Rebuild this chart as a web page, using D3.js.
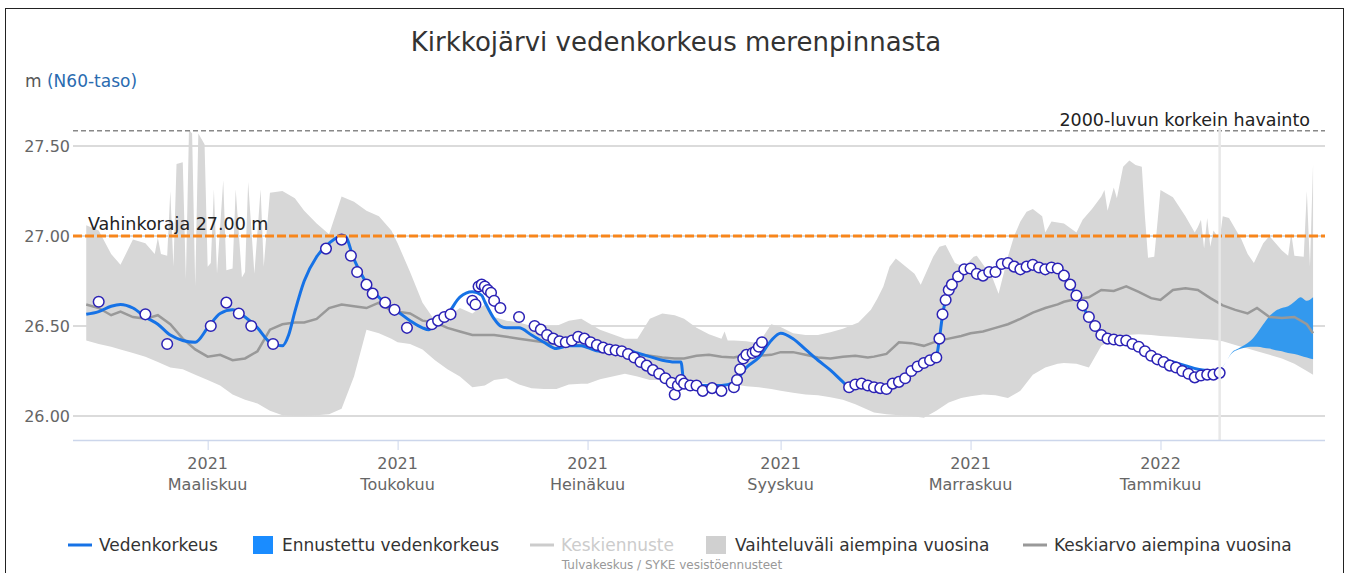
<!DOCTYPE html>
<html>
<head>
<meta charset="utf-8">
<script src="https://cdn.jsdelivr.net/npm/d3@7"></script>
<style>
body{margin:0;background:#fff;}
svg{font-family:"DejaVu Sans",sans-serif;}
</style>
</head>
<body>
<svg id="chart" width="1352" height="573"></svg>
<script>
// regular sampling dates for the low edge and the mean of previous years
let bandDates = [
 "2021-01-21","2021-01-25","2021-01-29",
 "2021-02-01","2021-02-05","2021-02-09","2021-02-13","2021-02-17","2021-02-21","2021-02-25",
 "2021-03-01","2021-03-05","2021-03-09","2021-03-13","2021-03-17","2021-03-21","2021-03-25","2021-03-29",
 "2021-04-01","2021-04-05","2021-04-09","2021-04-13","2021-04-17","2021-04-21","2021-04-25","2021-04-29",
 "2021-05-01","2021-05-05","2021-05-09","2021-05-13","2021-05-17","2021-05-21","2021-05-25","2021-05-29",
 "2021-06-01","2021-06-05","2021-06-09","2021-06-13","2021-06-17","2021-06-21","2021-06-25","2021-06-29",
 "2021-07-01","2021-07-05","2021-07-09","2021-07-13","2021-07-17","2021-07-21","2021-07-25","2021-07-29",
 "2021-08-01","2021-08-05","2021-08-09","2021-08-13","2021-08-17","2021-08-21","2021-08-25","2021-08-29",
 "2021-09-01","2021-09-05","2021-09-09","2021-09-13","2021-09-17","2021-09-21","2021-09-25","2021-09-29",
 "2021-10-01","2021-10-05","2021-10-09","2021-10-13","2021-10-17","2021-10-21","2021-10-25","2021-10-29",
 "2021-11-01","2021-11-05","2021-11-09","2021-11-13","2021-11-17","2021-11-21","2021-11-25","2021-11-29",
 "2021-12-01","2021-12-05","2021-12-09","2021-12-13","2021-12-17","2021-12-21","2021-12-25","2021-12-29",
 "2022-01-01","2022-01-05","2022-01-09","2022-01-13","2022-01-17","2022-01-21","2022-01-25","2022-01-29",
 "2022-02-01","2022-02-05","2022-02-09","2022-02-13","2022-02-17","2022-02-19"
];
let bandLow = [
 26.42,26.40,26.385,
 26.37,26.35,26.33,26.30,26.27,26.26,26.23,
 26.20,26.17,26.12,26.09,26.07,26.03,26.005,26.00,
 26.00,26.005,26.01,26.04,26.22,26.48,26.46,26.43,
 26.41,26.40,26.37,26.31,26.26,26.22,26.16,26.17,
 26.20,26.21,26.175,26.155,26.15,26.15,26.175,26.18,
 26.18,26.205,26.22,26.235,26.22,26.20,26.20,26.19,
 26.18,26.185,26.18,26.175,26.175,26.165,26.16,26.15,
 26.14,26.13,26.12,26.115,26.105,26.09,26.065,26.035,
 26.02,26.01,26.005,26.00,25.99,26.03,26.075,26.10,
 26.11,26.12,26.115,26.10,26.14,26.23,26.27,26.29,
 26.295,26.29,26.27,26.39,26.43,26.45,26.455,26.45,
 26.445,26.44,26.435,26.43,26.425,26.415,26.395,26.375,
 26.36,26.34,26.32,26.29,26.25,26.23
];
let bandMean = [
 26.62,26.60,26.56,
 26.58,26.55,26.54,26.56,26.51,26.43,26.37,
 26.33,26.34,26.31,26.32,26.36,26.48,26.51,26.52,
 26.52,26.54,26.60,26.62,26.61,26.60,26.63,26.585,
 26.58,26.57,26.53,26.52,26.49,26.47,26.45,26.45,
 26.45,26.44,26.43,26.42,26.41,26.40,26.395,26.39,
 26.385,26.37,26.36,26.355,26.345,26.335,26.325,26.32,
 26.32,26.335,26.34,26.33,26.325,26.34,26.335,26.34,
 26.355,26.355,26.34,26.325,26.32,26.33,26.335,26.325,
 26.33,26.345,26.41,26.405,26.39,26.415,26.43,26.445,
 26.46,26.47,26.49,26.51,26.54,26.575,26.60,26.62,
 26.635,26.65,26.66,26.70,26.695,26.72,26.69,26.655,
 26.645,26.70,26.71,26.70,26.655,26.615,26.59,26.57,
 26.60,26.55,26.545,26.55,26.51,26.46
];
// high edge of previous years (irregular, has the narrow spikes)
let bandHigh = [
 ["2021-01-21",27.06],["2021-01-25",27.03],["2021-01-29",26.90],["2021-02-01",26.84],
 ["2021-02-05",26.98],["2021-02-09",26.96],["2021-02-12",26.90],["2021-02-13",26.99],
 ["2021-02-14",26.90],["2021-02-16",26.89],["2021-02-17",27.25],["2021-02-18",26.83],
 ["2021-02-19",27.40],["2021-02-21",27.41],["2021-02-22",26.76],["2021-02-23",27.59],
 ["2021-02-24",27.57],["2021-02-25",26.72],["2021-02-26",27.57],["2021-02-28",27.51],
 ["2021-03-01",26.83],["2021-03-02",26.85],["2021-03-03",27.26],["2021-03-04",26.79],
 ["2021-03-06",27.31],["2021-03-07",26.81],["2021-03-09",26.82],["2021-03-10",27.26],
 ["2021-03-12",26.77],["2021-03-13",26.80],["2021-03-14",27.30],["2021-03-16",26.79],
 ["2021-03-18",27.26],["2021-03-19",26.83],["2021-03-21",27.24],["2021-03-25",27.25],
 ["2021-03-29",27.21],["2021-04-01",27.14],["2021-04-05",27.07],["2021-04-09",27.01],
 ["2021-04-13",27.22],["2021-04-17",27.19],["2021-04-21",27.14],["2021-04-25",27.11],
 ["2021-04-29",27.03],["2021-05-01",26.96],["2021-05-05",26.80],["2021-05-09",26.63],
 ["2021-05-13",26.53],["2021-05-17",26.55],["2021-05-21",26.60],["2021-05-25",26.57],
 ["2021-05-29",26.62],["2021-06-01",26.55],["2021-06-05",26.53],["2021-06-09",26.52],
 ["2021-06-13",26.50],["2021-06-17",26.50],["2021-06-21",26.50],["2021-06-25",26.53],
 ["2021-06-29",26.54],["2021-07-01",26.52],["2021-07-05",26.48],["2021-07-09",26.455],
 ["2021-07-13",26.43],["2021-07-17",26.43],["2021-07-21",26.54],["2021-07-25",26.57],
 ["2021-07-29",26.56],["2021-08-01",26.54],["2021-08-05",26.49],["2021-08-09",26.455],
 ["2021-08-13",26.43],["2021-08-14",26.47],["2021-08-15",26.42],["2021-08-17",26.42],
 ["2021-08-21",26.415],["2021-08-25",26.405],["2021-08-29",26.51],["2021-09-01",26.495],
 ["2021-09-05",26.46],["2021-09-09",26.45],["2021-09-13",26.45],["2021-09-17",26.465],
 ["2021-09-21",26.485],["2021-09-26",26.52],["2021-09-30",26.59],["2021-10-02",26.65],
 ["2021-10-04",26.72],["2021-10-06",26.83],["2021-10-08",26.875],["2021-10-14",26.79],
 ["2021-10-16",26.73],["2021-10-20",26.885],["2021-10-22",26.94],["2021-10-24",26.95],
 ["2021-10-27",26.85],["2021-10-30",26.83],["2021-11-02",26.885],["2021-11-03",26.89],
 ["2021-11-08",26.77],["2021-11-10",26.68],["2021-11-13",26.885],["2021-11-15",27.00],
 ["2021-11-17",27.08],["2021-11-19",27.135],["2021-11-21",27.15],["2021-11-24",27.11],
 ["2021-11-25",27.02],["2021-11-27",27.08],["2021-12-01",27.07],["2021-12-05",27.02],
 ["2021-12-07",27.09],["2021-12-10",27.15],["2021-12-13",27.22],["2021-12-14",27.255],
 ["2021-12-15",27.14],["2021-12-17",27.27],["2021-12-18",27.21],["2021-12-20",27.385],
 ["2021-12-22",27.42],["2021-12-24",27.395],["2021-12-26",27.385],["2021-12-27",27.11],
 ["2021-12-28",26.88],["2021-12-30",26.885],["2022-01-01",27.255],["2022-01-05",27.215],
 ["2022-01-09",27.11],["2022-01-12",27.02],["2022-01-13",27.05],["2022-01-14",27.09],
 ["2022-01-15",26.93],["2022-01-16",27.10],["2022-01-17",26.94],["2022-01-18",27.03],
 ["2022-01-20",26.98],["2022-01-21",27.11],["2022-01-23",27.10],["2022-01-27",26.98],
 ["2022-01-29",26.90],["2022-01-31",26.85],["2022-02-03",26.96],["2022-02-05",27.00],
 ["2022-02-09",26.92],["2022-02-11",26.89],["2022-02-12",27.015],["2022-02-13",26.89],
 ["2022-02-16",26.885],["2022-02-17",27.25],["2022-02-18",26.83],["2022-02-19",27.40]
];
// Vedenkorkeus (simulated water level line)
let levelLine = [
 ["2021-01-21",26.565],["2021-01-25",26.58],["2021-01-29",26.61],["2021-02-01",26.62],
 ["2021-02-05",26.60],["2021-02-09",26.55],["2021-02-13",26.51],["2021-02-17",26.45],
 ["2021-02-21",26.42],["2021-02-25",26.41],["2021-03-01",26.49],["2021-03-05",26.57],
 ["2021-03-09",26.59],["2021-03-13",26.55],["2021-03-17",26.49],["2021-03-21",26.41],
 ["2021-03-25",26.39],["2021-03-27",26.45],["2021-03-29",26.58],["2021-04-01",26.75],
 ["2021-04-05",26.885],["2021-04-09",26.96],["2021-04-13",27.00],["2021-04-14",27.00],
 ["2021-04-17",26.87],["2021-04-21",26.74],["2021-04-25",26.66],["2021-04-29",26.60],
 ["2021-05-01",26.58],["2021-05-05",26.53],["2021-05-09",26.49],["2021-05-11",26.48],
 ["2021-05-13",26.51],["2021-05-17",26.565],["2021-05-21",26.66],["2021-05-25",26.69],
 ["2021-05-28",26.67],["2021-05-29",26.635],["2021-06-01",26.54],["2021-06-03",26.50],
 ["2021-06-05",26.49],["2021-06-09",26.49],["2021-06-13",26.45],["2021-06-17",26.41],
 ["2021-06-21",26.375],["2021-06-25",26.39],["2021-06-29",26.39],["2021-07-01",26.38],
 ["2021-07-05",26.36],["2021-07-09",26.36],["2021-07-13",26.37],["2021-07-17",26.35],
 ["2021-07-21",26.33],["2021-07-25",26.31],["2021-07-29",26.30],["2021-07-31",26.30],
 ["2021-08-01",26.18],["2021-08-05",26.17],["2021-08-09",26.17],["2021-08-13",26.17],
 ["2021-08-17",26.185],["2021-08-21",26.27],["2021-08-25",26.325],["2021-08-29",26.42],
 ["2021-09-01",26.46],["2021-09-05",26.43],["2021-09-09",26.37],["2021-09-13",26.31],
 ["2021-09-17",26.255],["2021-09-21",26.19],["2021-09-23",26.16],["2021-09-25",26.175],
 ["2021-09-29",26.17],["2021-10-01",26.16],["2021-10-05",26.15],["2021-10-09",26.19],
 ["2021-10-13",26.25],["2021-10-17",26.295],["2021-10-21",26.33],["2021-10-22",26.43],
 ["2021-10-23",26.56],["2021-10-24",26.645],["2021-10-25",26.70],["2021-10-29",26.80],
 ["2021-11-01",26.82],["2021-11-05",26.78],["2021-11-09",26.80],["2021-11-13",26.85],
 ["2021-11-17",26.815],["2021-11-21",26.84],["2021-11-25",26.815],["2021-11-29",26.82],
 ["2021-12-01",26.78],["2021-12-05",26.67],["2021-12-09",26.55],["2021-12-13",26.45],
 ["2021-12-17",26.425],["2021-12-21",26.42],["2021-12-25",26.385],["2021-12-29",26.345],
 ["2022-01-01",26.325],["2022-01-05",26.30],["2022-01-09",26.28],["2022-01-13",26.26],
 ["2022-01-17",26.25],["2022-01-20",26.245]
];
// observed levels (circles)
let observed = [
 ["2021-01-25",26.635],["2021-02-09",26.565],["2021-02-16",26.40],["2021-03-02",26.50],
 ["2021-03-07",26.63],["2021-03-11",26.57],["2021-03-15",26.50],["2021-03-22",26.40],
 ["2021-04-08",26.93],["2021-04-13",26.98],["2021-04-16",26.89],["2021-04-18",26.80],
 ["2021-04-21",26.73],["2021-04-23",26.68],["2021-04-27",26.63],["2021-04-30",26.59],
 ["2021-05-04",26.49],["2021-05-12",26.51],["2021-05-14",26.53],["2021-05-16",26.55],
 ["2021-05-18",26.565],["2021-05-25",26.64],["2021-05-26",26.62],["2021-05-27",26.72],
 ["2021-05-28",26.73],["2021-05-29",26.72],["2021-05-30",26.70],["2021-05-31",26.685],
 ["2021-06-01",26.64],["2021-06-03",26.60],["2021-06-09",26.55],["2021-06-14",26.50],
 ["2021-06-16",26.48],["2021-06-18",26.45],["2021-06-20",26.43],["2021-06-22",26.415],
 ["2021-06-24",26.41],["2021-06-26",26.42],["2021-06-28",26.44],["2021-06-30",26.43],
 ["2021-07-02",26.41],["2021-07-04",26.395],["2021-07-06",26.38],["2021-07-08",26.37],
 ["2021-07-10",26.365],["2021-07-12",26.36],["2021-07-14",26.345],["2021-07-16",26.325],
 ["2021-07-18",26.30],["2021-07-20",26.28],["2021-07-22",26.255],["2021-07-24",26.235],
 ["2021-07-26",26.21],["2021-07-28",26.185],["2021-07-29",26.12],["2021-07-30",26.17],
 ["2021-07-31",26.20],["2021-08-01",26.18],["2021-08-03",26.17],["2021-08-05",26.17],
 ["2021-08-07",26.14],["2021-08-10",26.155],["2021-08-13",26.14],["2021-08-17",26.16],
 ["2021-08-18",26.20],["2021-08-19",26.26],["2021-08-20",26.32],["2021-08-21",26.34],
 ["2021-08-23",26.35],["2021-08-24",26.36],["2021-08-25",26.385],["2021-08-26",26.41],
 ["2021-09-23",26.16],["2021-09-25",26.175],["2021-09-27",26.18],["2021-09-29",26.17],
 ["2021-10-01",26.16],["2021-10-03",26.155],["2021-10-05",26.15],["2021-10-07",26.18],
 ["2021-10-09",26.19],["2021-10-11",26.21],["2021-10-13",26.25],["2021-10-15",26.275],
 ["2021-10-17",26.295],["2021-10-19",26.31],["2021-10-21",26.325],["2021-10-22",26.43],
 ["2021-10-23",26.565],["2021-10-24",26.645],["2021-10-25",26.70],["2021-10-26",26.73],
 ["2021-10-28",26.775],["2021-10-30",26.815],["2021-11-01",26.82],["2021-11-03",26.79],
 ["2021-11-05",26.78],["2021-11-07",26.80],["2021-11-09",26.80],["2021-11-11",26.845],
 ["2021-11-13",26.85],["2021-11-15",26.83],["2021-11-17",26.815],["2021-11-19",26.83],
 ["2021-11-21",26.84],["2021-11-23",26.825],["2021-11-25",26.815],["2021-11-27",26.825],
 ["2021-11-29",26.82],["2021-12-01",26.78],["2021-12-03",26.73],["2021-12-05",26.67],
 ["2021-12-07",26.615],["2021-12-09",26.55],["2021-12-11",26.50],["2021-12-13",26.45],
 ["2021-12-15",26.43],["2021-12-17",26.425],["2021-12-19",26.42],["2021-12-21",26.42],
 ["2021-12-23",26.40],["2021-12-25",26.385],["2021-12-27",26.36],["2021-12-29",26.335],
 ["2021-12-31",26.315],["2022-01-02",26.30],["2022-01-04",26.28],["2022-01-06",26.27],
 ["2022-01-08",26.25],["2022-01-10",26.235],["2022-01-12",26.215],["2022-01-14",26.225],
 ["2022-01-16",26.23],["2022-01-18",26.23],["2022-01-20",26.24]
];
// Ennustettu vedenkorkeus (forecast range)
let fcDates = ["2022-01-20","2022-01-22","2022-01-24","2022-01-26","2022-01-28","2022-01-30",
 "2022-02-01","2022-02-03","2022-02-05","2022-02-07","2022-02-09","2022-02-11",
 "2022-02-13","2022-02-15","2022-02-17","2022-02-19"];
let fcHigh = [26.245,26.30,26.355,26.375,26.395,26.42,26.46,26.51,26.555,26.585,26.60,26.61,26.635,26.66,26.64,26.66];
let fcLow  = [26.245,26.30,26.35,26.37,26.38,26.385,26.385,26.38,26.375,26.365,26.36,26.35,26.345,26.335,26.325,26.315];

let yTicks = [26.0,26.5,27.0,27.5];
let monthTicks = ["2021-03-01","2021-05-01","2021-07-01","2021-09-01","2021-11-01","2022-01-01"];
let tickYears = ["2021","2021","2021","2021","2021","2022"];
let tickMonths = ["Maaliskuu","Toukokuu","Heinäkuu","Syyskuu","Marraskuu","Tammikuu"];
let damageLimit = 27.00, highestObs = 27.585, today = "2022-01-20";

let legendItems = [
  {name:"Vedenkorkeus", kind:"line", color:"#1672e6", text:"#333"},
  {name:"Ennustettu vedenkorkeus", kind:"box", color:"#1a8cff", text:"#333"},
  {name:"Keskiennuste", kind:"line", color:"#cccccc", text:"#cccccc"},
  {name:"Vaihteluväli aiempina vuosina", kind:"box", color:"#d0d0d0", text:"#333"},
  {name:"Keskiarvo aiempina vuosina", kind:"line", color:"#999999", text:"#333"}
];
let legendX = [68,253,530,706,1023];

let width = 1352, height = 573;
let plotL = 73, plotR = 1325, plotT = 128, plotB = 440;
let parse = d3.timeParse("%Y-%m-%d");

let x = d3.scaleTime()
  .domain([new Date(2021,0,16,18), new Date(2022,1,22,20)])
  .range([plotL, plotR]);
let y = d3.scaleLinear().domain([25.867, 27.6]).range([plotB, plotT]);

let svg = d3.select('#chart');
svg.append('rect').attr('x',0).attr('y',0).attr('width',width).attr('height',height).attr('fill','#fff');
svg.append('rect').attr('x',5.5).attr('y',8.5).attr('width',1338).attr('height',620)
  .attr('fill','none').attr('stroke','#222').attr('stroke-width',1);

svg.append('defs').append('clipPath').attr('id','plot')
  .append('rect').attr('x',plotL).attr('y',plotT-10).attr('width',plotR-plotL).attr('height',plotB-plotT+10);

// title
svg.append('text').attr('x',676).attr('y',51).attr('text-anchor','middle')
  .attr('font-size',26).attr('fill','#333').text('Kirkkojärvi vedenkorkeus merenpinnasta');

// y title
let yt = svg.append('text').attr('x',25).attr('y',87).attr('font-size',17);
yt.append('tspan').attr('fill','#555').text('m ');
yt.append('tspan').attr('fill','#2a6bb0').text('(N60-taso)');

// grid + y labels
yTicks.forEach(v=>{
  svg.append('line').attr('x1',plotL).attr('x2',plotR).attr('y1',y(v)).attr('y2',y(v))
    .attr('stroke','#cfcfcf').attr('stroke-width',1.5);
  svg.append('text').attr('x',70).attr('y',y(v)+5.5).attr('text-anchor','end')
    .attr('font-size',16).attr('fill','#666').text(d3.format('.2f')(v));
});

let g = svg.append('g').attr('clip-path','url(#plot)');

// range of previous years
let hiPts = bandHigh.map(d=>[parse(d[0]),d[1]]);
let loPts = bandDates.map((d,i)=>[parse(d),bandLow[i]]);
let poly = hiPts.concat(loPts.slice().reverse());
g.append('path')
  .attr('d', d3.line().x(d=>x(d[0])).y(d=>y(d[1])).curve(d3.curveLinearClosed)(poly))
  .attr('fill','#d7d7d7');

// forecast range
g.append('path')
  .datum(fcDates.map((d,i)=>({t:parse(d),hi:fcHigh[i],lo:fcLow[i]})))
  .attr('d', d3.area().x(d=>x(d.t)).y0(d=>y(d.lo)).y1(d=>y(d.hi)).curve(d3.curveMonotoneX))
  .attr('fill','#3399ee');

// mean of previous years
g.append('path')
  .datum(bandDates.map((d,i)=>[parse(d),bandMean[i]]))
  .attr('d', d3.line().x(d=>x(d[0])).y(d=>y(d[1])))
  .attr('fill','none').attr('stroke','#999').attr('stroke-width',2.5);

// damage limit
svg.append('line').attr('x1',plotL).attr('x2',plotR).attr('y1',y(damageLimit)).attr('y2',y(damageLimit))
  .attr('stroke','#f7861c').attr('stroke-width',3).attr('stroke-dasharray','9,3');
svg.append('text').attr('x',88).attr('y',y(damageLimit)-6).attr('font-size',17.5).attr('fill','#222')
  .text('Vahinkoraja 27.00 m');

// highest observation since 2000
svg.append('line').attr('x1',plotL).attr('x2',plotR).attr('y1',y(highestObs)).attr('y2',y(highestObs))
  .attr('stroke','#888').attr('stroke-width',1.5).attr('stroke-dasharray','5,3');
svg.append('text').attr('x',1310).attr('y',y(highestObs)-5).attr('text-anchor','end')
  .attr('font-size',17.5).attr('fill','#222').text('2000-luvun korkein havainto');

// today
svg.append('line').attr('x1',x(parse(today))).attr('x2',x(parse(today)))
  .attr('y1',plotT).attr('y2',plotB).attr('stroke','#e8e8e8').attr('stroke-width',2.5);

// water level
g.append('path')
  .datum(levelLine.map(d=>[parse(d[0]),d[1]]))
  .attr('d', d3.line().x(d=>x(d[0])).y(d=>y(d[1])).curve(d3.curveMonotoneX))
  .attr('fill','none').attr('stroke','#1672e6').attr('stroke-width',3);

// observations
g.selectAll('circle.obs').data(observed).enter().append('circle')
  .attr('class','obs')
  .attr('cx',d=>x(parse(d[0]))).attr('cy',d=>y(d[1])).attr('r',5.3)
  .attr('fill','#fff').attr('stroke','#2b22b5').attr('stroke-width',1.5);

// x axis
let xAxis = d3.axisBottom(x).tickValues(monthTicks.map(parse)).tickSize(10).tickFormat('');
let ax = svg.append('g').attr('transform','translate(0,'+plotB+')').call(xAxis);
ax.select('.domain').attr('stroke','#ccd6eb').attr('stroke-width',1.5).attr('d','M'+plotL+',0.5H'+plotR);
ax.selectAll('.tick line').attr('stroke','#ccd6eb');
monthTicks.forEach((m,i)=>{
  let t = svg.append('text').attr('x',x(parse(m))).attr('y',469).attr('text-anchor','middle')
    .attr('font-size',16).attr('fill','#666');
  t.append('tspan').attr('x',x(parse(m))).text(tickYears[i]);
  t.append('tspan').attr('x',x(parse(m))).attr('dy',21).text(tickMonths[i]);
});

// legend
legendItems.forEach((it,i)=>{
  let lx = legendX[i], ly = 545;
  if(it.kind==='line'){
    svg.append('line').attr('x1',lx).attr('x2',lx+24).attr('y1',ly).attr('y2',ly)
      .attr('stroke',it.color).attr('stroke-width',3);
  } else {
    svg.append('rect').attr('x',lx).attr('y',ly-9).attr('width',20).attr('height',18)
      .attr('fill',it.color);
  }
  svg.append('text').attr('x',lx+(it.kind==='line'?31:29)).attr('y',ly+6)
    .attr('font-size',17).attr('fill',it.text).text(it.name);
});

// credits
svg.append('text').attr('x',672).attr('y',569).attr('text-anchor','middle')
  .attr('font-size',12).attr('fill','#999').text('Tulvakeskus / SYKE vesistöennusteet');
</script>
</body>
</html>
